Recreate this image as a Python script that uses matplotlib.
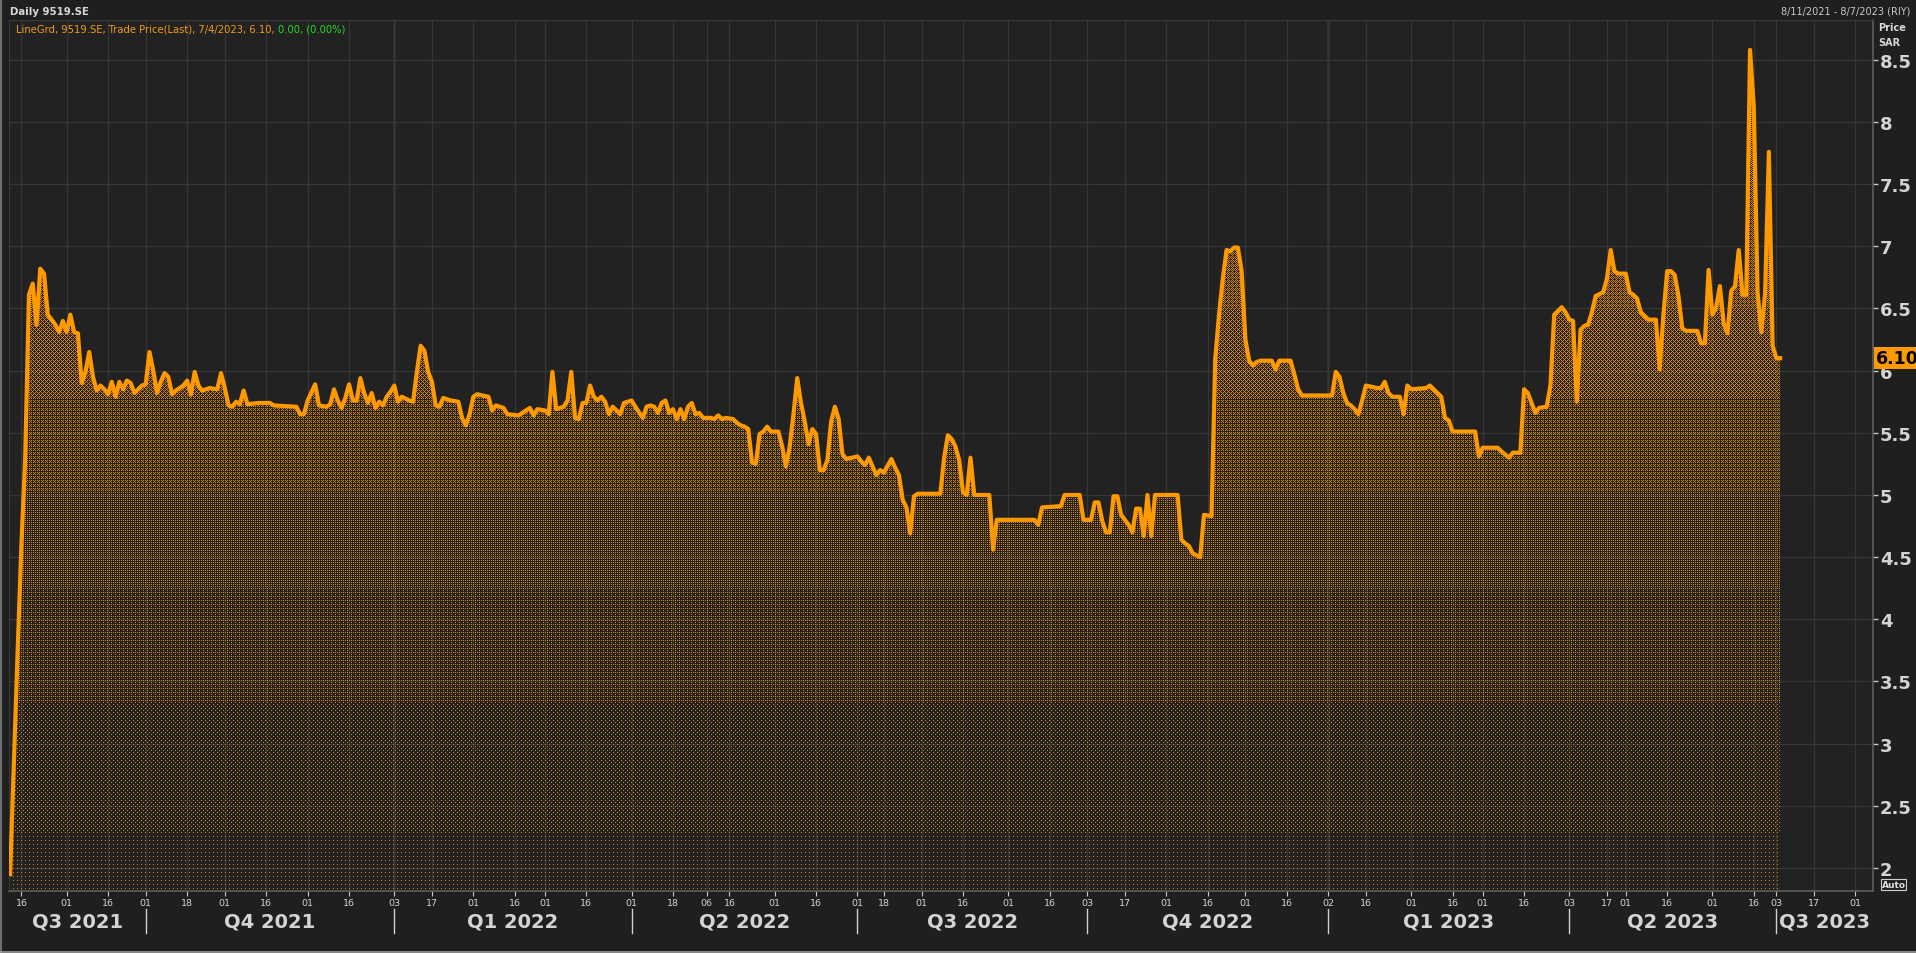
import numpy as np
import pandas as pd
import matplotlib
matplotlib.use("Agg")
import matplotlib.pyplot as plt
import matplotlib.transforms as mtransforms
from matplotlib.patches import PathPatch
from matplotlib.lines import Line2D

# trading calendar (weekdays minus market holidays)
holidays = ['2021-09-23', '2022-02-22', '2022-04-29', '2022-05-02', '2022-05-03',
            '2022-05-04', '2022-05-05', '2022-07-07', '2022-07-08', '2022-07-11',
            '2022-07-12', '2022-09-23', '2022-11-23', '2023-02-22', '2023-04-20',
            '2023-04-21', '2023-04-24', '2023-04-25', '2023-04-26', '2023-06-26',
            '2023-06-27', '2023-06-28', '2023-06-29', '2023-06-30']
sessions = pd.bdate_range('2021-08-11', '2023-08-07', freq='C',
                          weekmask='Mon Tue Wed Thu Fri', holidays=holidays)

# session number -> last price (SAR)
session = [0, 1, 2, 3, 4, 5, 6, 7, 8, 9, 10, 11, 12, 13, 14, 15, 16, 17, 18, 19,
           20, 21, 22, 23, 24, 25, 26, 27, 28, 29, 30, 31, 32, 33, 34, 35, 36, 37, 38, 39,
           40, 41, 42, 43, 44, 46, 47, 48, 49, 50, 51, 53, 55, 56, 57, 58, 59, 60, 61, 62,
           63, 66, 69, 70, 76, 77, 78, 79, 81, 82, 84, 85, 86, 87, 88, 89, 90, 91, 92, 93,
           94, 95, 96, 97, 98, 99, 100, 101, 102, 103, 104, 106, 107, 108, 109, 110, 111, 112, 113, 114,
           115, 117, 119, 120, 121, 122, 123, 124, 127, 128, 129, 131, 132, 135, 138, 139, 140, 142, 143, 144,
           145, 147, 148, 149, 150, 151, 152, 153, 154, 155, 156, 157, 158, 159, 160, 162, 163, 165, 166, 168,
           169, 170, 171, 172, 173, 174, 175, 176, 177, 178, 179, 180, 181, 182, 183, 184, 186, 187, 188, 189,
           190, 192, 193, 194, 195, 196, 197, 198, 199, 200, 201, 202, 204, 205, 206, 207, 208, 209, 210, 211,
           212, 213, 214, 215, 216, 217, 218, 219, 220, 221, 222, 225, 226, 227, 228, 229, 230, 231, 232, 234,
           235, 236, 237, 238, 239, 240, 241, 247, 248, 249, 250, 251, 252, 253, 254, 255, 256, 260, 261, 262,
           272, 273, 274, 279, 280, 284, 285, 287, 288, 289, 290, 291, 292, 293, 294, 295, 297, 298, 299, 300,
           301, 302, 303, 304, 310, 311, 312, 313, 314, 316, 317, 319, 320, 321, 322, 323, 324, 325, 326, 327,
           328, 329, 330, 331, 332, 335, 336, 337, 340, 341, 342, 343, 351, 352, 353, 354, 355, 356, 357, 358,
           359, 360, 363, 364, 365, 366, 367, 369, 370, 371, 372, 376, 377, 378, 380, 381, 382, 383, 389, 390,
           391, 395, 396, 398, 399, 401, 402, 403, 405, 406, 408, 409, 410, 411, 412, 413, 414, 415, 416, 417,
           418, 419, 420, 421, 423, 424, 425, 426, 427, 429, 430, 431, 432, 433, 435, 437, 438, 439, 440, 441,
           442, 443, 444, 445, 448, 449, 450, 451, 452, 453, 454, 455, 456, 457, 458, 459, 460, 461, 462, 463,
           464, 465, 466, 467, 468, 469, 470]
close = [1.95, 2.85, 3.75, 4.60, 5.30, 6.61, 6.70, 6.37, 6.82, 6.78, 6.45, 6.41, 6.37, 6.31, 6.40, 6.31, 6.45, 6.31, 6.30, 5.90,
         5.99, 6.15, 5.95, 5.84, 5.88, 5.85, 5.81, 5.91, 5.79, 5.91, 5.85, 5.92, 5.90, 5.82, 5.85, 5.88, 5.89, 6.15, 6.00, 5.82,
         5.91, 5.98, 5.95, 5.81, 5.84, 5.88, 5.92, 5.81, 5.99, 5.88, 5.84, 5.86, 5.85, 5.98, 5.86, 5.72, 5.71, 5.75, 5.73, 5.84,
         5.73, 5.74, 5.74, 5.72, 5.71, 5.65, 5.65, 5.76, 5.89, 5.72, 5.71, 5.73, 5.85, 5.76, 5.70, 5.78, 5.89, 5.76, 5.76, 5.94,
         5.82, 5.74, 5.82, 5.70, 5.75, 5.72, 5.79, 5.83, 5.88, 5.75, 5.79, 5.76, 5.75, 5.99, 6.20, 6.16, 5.99, 5.91, 5.72, 5.71,
         5.78, 5.76, 5.75, 5.62, 5.56, 5.65, 5.79, 5.81, 5.79, 5.68, 5.72, 5.70, 5.65, 5.64, 5.70, 5.64, 5.69, 5.68, 5.65, 5.99,
         5.69, 5.71, 5.76, 5.99, 5.62, 5.61, 5.74, 5.74, 5.88, 5.79, 5.76, 5.79, 5.75, 5.65, 5.71, 5.65, 5.74, 5.76, 5.71, 5.62,
         5.71, 5.72, 5.71, 5.66, 5.74, 5.76, 5.66, 5.69, 5.61, 5.69, 5.61, 5.71, 5.74, 5.65, 5.66, 5.62, 5.62, 5.61, 5.64, 5.61,
         5.62, 5.61, 5.58, 5.56, 5.55, 5.53, 5.26, 5.25, 5.49, 5.51, 5.55, 5.51, 5.51, 5.39, 5.23, 5.39, 5.65, 5.94, 5.74, 5.59,
         5.41, 5.53, 5.49, 5.20, 5.20, 5.28, 5.59, 5.71, 5.61, 5.33, 5.29, 5.31, 5.27, 5.24, 5.30, 5.23, 5.16, 5.20, 5.18, 5.29,
         5.22, 5.16, 4.96, 4.90, 4.69, 4.99, 5.01, 5.01, 5.30, 5.48, 5.45, 5.39, 5.28, 5.02, 5.00, 5.30, 5.00, 5.00, 4.56, 4.80,
         4.80, 4.76, 4.90, 4.91, 5.00, 5.00, 4.80, 4.80, 4.94, 4.94, 4.79, 4.70, 4.70, 4.99, 4.99, 4.84, 4.76, 4.70, 4.89, 4.89,
         4.67, 5.00, 4.67, 5.00, 5.00, 4.64, 4.61, 4.59, 4.53, 4.50, 4.84, 4.83, 6.10, 6.45, 6.74, 6.97, 6.96, 6.99, 6.99, 6.80,
         6.25, 6.08, 6.04, 6.07, 6.08, 6.08, 6.01, 6.08, 6.08, 5.97, 5.85, 5.80, 5.80, 5.99, 5.95, 5.82, 5.74, 5.72, 5.69, 5.65,
         5.76, 5.88, 5.86, 5.86, 5.91, 5.82, 5.79, 5.79, 5.65, 5.88, 5.85, 5.86, 5.88, 5.85, 5.79, 5.62, 5.60, 5.51, 5.51, 5.31,
         5.38, 5.38, 5.35, 5.30, 5.34, 5.34, 5.85, 5.82, 5.66, 5.70, 5.71, 5.88, 6.45, 6.48, 6.51, 6.47, 6.41, 6.40, 5.75, 6.33,
         6.36, 6.37, 6.47, 6.60, 6.63, 6.74, 6.97, 6.80, 6.78, 6.78, 6.63, 6.61, 6.58, 6.47, 6.41, 6.41, 6.01, 6.45, 6.80, 6.80,
         6.77, 6.60, 6.34, 6.32, 6.32, 6.22, 6.22, 6.81, 6.45, 6.51, 6.68, 6.38, 6.30, 6.64, 6.68, 6.97, 6.61, 6.61, 8.58, 8.12,
         6.63, 6.31, 6.62, 7.76, 6.20, 6.10, 6.10]

yticks = [2, 2.5, 3, 3.5, 4, 4.5, 5, 5.5, 6, 6.5, 7, 7.5, 8, 8.5]
quarters = ['2021-07-01', '2021-10-01', '2022-01-01', '2022-04-01', '2022-07-01',
            '2022-10-01', '2023-01-01', '2023-04-01', '2023-07-01']
last_price = 6.10

W, H = 1916, 954
ORANGE = '#ff9900'
TXT = '#d4d4d4'


def fx(x):
    return x / W


def fy(y):
    return 1 - y / H


fig = plt.figure(figsize=(W / 100, H / 100), dpi=100, facecolor='#1f1f1f')
ax_l, ax_r, ax_t, ax_b = 9, 1873, 21, 892
ax = fig.add_axes([fx(ax_l), fy(ax_b), (ax_r - ax_l) / W, (ax_b - ax_t) / H], facecolor='#222222')

xlim = (-0.3, len(sessions) - 0.35)
ylim = (1.815, 8.82)

# dithered (dotted) fill under the line, denser higher up
fill = ax.fill_between(session, close, ylim[0], facecolor='none', edgecolor='none')
clip = PathPatch(fill.get_paths()[0], transform=ax.transData, facecolor='none', edgecolor='none')
ax.add_patch(clip)
ny, nx = ax_b - ax_t, ax_r - ax_l
bayer = np.array([[0, 8, 2, 10], [12, 4, 14, 6], [3, 11, 1, 9], [15, 7, 13, 5]]) / 16 + 1 / 32
thr = np.tile(bayer, (ny // 4 + 1, nx // 4 + 1))[:ny, :nx]
rows = np.linspace(ylim[1], ylim[0], ny)
dens = np.interp(rows, [1.8, 2.6, 4.0, 5.5, 7.0, 8.8], [0.07, 0.11, 0.2, 0.32, 0.45, 0.5])
mask = dens[:, None] > thr
img = np.zeros((ny, nx, 4))
img[..., 0] = 1.0
img[..., 1] = 0.6
img[..., 3] = mask * 0.85
im = ax.imshow(img, extent=[xlim[0], xlim[1], ylim[0], ylim[1]], aspect='auto',
               origin='upper', zorder=1, interpolation='nearest')
im.set_clip_path(clip)

ax.plot(session, close, color=ORANGE, lw=3, solid_joinstyle='round', zorder=3)

ax.set_xlim(*xlim)
ax.set_ylim(*ylim)

# x ticks: first session on/after the 1st and 16th of each month
tick_pos, tick_lab = [], []
for m in pd.date_range('2021-08-01', '2023-08-01', freq='MS'):
    for d in (1, 16):
        anchor = m + pd.Timedelta(days=d - 1)
        if anchor < sessions[0] or anchor > sessions[-1]:
            continue
        k = sessions.searchsorted(anchor)
        tick_pos.append(k)
        tick_lab.append(sessions[k].strftime('%d'))

ax.set_xticks(tick_pos)
ax.set_xticklabels(tick_lab, fontsize=6.8, color=TXT)
ax.tick_params(axis='x', direction='out', length=3.5, width=0.8, color='#c8c8c8', pad=1.2)

ax.yaxis.tick_right()
ax.set_yticks(yticks)
ax.set_yticklabels([f'{v:g}' for v in yticks], fontsize=13, fontweight='bold', color=TXT)
ax.tick_params(axis='y', direction='out', length=3.5, width=1, color='#c8c8c8', pad=1.5)

ax.grid(True, color='#363636', lw=0.9)
ax.set_axisbelow(True)
for s in ('left', 'top'):
    ax.spines[s].set_color('#3a3a3a')
for s in ('right', 'bottom'):
    ax.spines[s].set_color('#5e5e5e')
    ax.spines[s].set_linewidth(1.2)

# quarter bands along the bottom
trans = mtransforms.blended_transform_factory(ax.transData, ax.transAxes)
qstart = [sessions.searchsorted(pd.Timestamp(q)) for q in quarters]
qnames = ['Q%d %d' % ((pd.Timestamp(q).month - 1) // 3 + 1, pd.Timestamp(q).year) for q in quarters]
edges = [xlim[0]] + qstart[1:] + [xlim[1]]
for i, name in enumerate(qnames):
    ax.text((edges[i] + edges[i + 1]) / 2, -0.0345, name, transform=trans, ha='center', va='center',
            fontsize=14, fontweight='bold', color=TXT)
for q in qstart[1:]:
    ax.plot([q, q], [-0.0207, -0.0482], transform=trans, color='#d0d0d0', lw=1, clip_on=False)
    if sessions[q].month == 1:
        ax.axvline(q, color='#303030', lw=2.2, zorder=0.5)

# last price marker
ytrans = mtransforms.blended_transform_factory(ax.transAxes, ax.transData)
ax.text(1.0018, last_price, '%.2f' % last_price, transform=ytrans, ha='left', va='center',
        fontsize=12.5, fontweight='bold', color='black', clip_on=False, zorder=10,
        bbox=dict(boxstyle='square,pad=0.12', fc=ORANGE, ec='none'))

# header texts
fig.text(fx(10), fy(12), 'Daily 9519.SE', fontsize=7.3, fontweight='bold', color='#d8d8d8', va='center')
fig.text(fx(1910), fy(12), '8/11/2021 - 8/7/2023 (RIY)', fontsize=7, color='#c8c8c8', va='center', ha='right')
fig.text(fx(1878), fy(28), 'Price', fontsize=7, fontweight='bold', color='#d8d8d8', va='center')
fig.text(fx(1878), fy(43), 'SAR', fontsize=7, fontweight='bold', color='#d8d8d8', va='center')
leg = fig.text(fx(16), fy(30), 'LineGrd, 9519.SE, Trade Price(Last), 7/4/2023, 6.10, ',
               fontsize=7.2, color='#f39a1c', va='center')
ax.annotate('0.00, (0.00%)', xy=(1, 0.5), xycoords=leg, fontsize=7.2, color='#22dd22', va='center',
            annotation_clip=False)
fig.text(fx(1893.5), fy(885.5), 'Auto', fontsize=6.5, fontweight='bold', color='#e0e0e0',
         ha='center', va='center',
         bbox=dict(boxstyle='square,pad=0.1', fc='none', ec='#cfcfcf', lw=0.8))

# window frame
fig.add_artist(Line2D([fx(1), fx(1)], [0, 1], color='#6e6e6e', lw=1.5))
fig.add_artist(Line2D([0, 1], [fy(952.5), fy(952.5)], color='#9a9a9a', lw=1.2))

fig.savefig('out.png', dpi=100, facecolor=fig.get_facecolor())
